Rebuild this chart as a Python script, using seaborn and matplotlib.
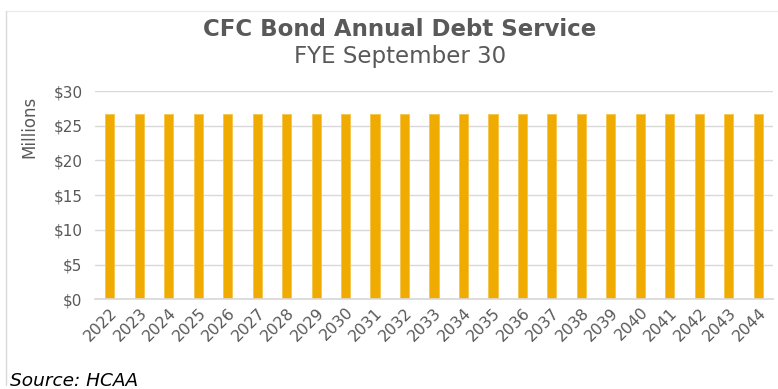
import matplotlib
matplotlib.use("Agg")
import matplotlib.pyplot as plt
import seaborn as sns
import pandas as pd
from matplotlib.lines import Line2D

years = [str(y) for y in range(2022, 2045)]
debt_service = [26.7] * 23  # $ millions, roughly level each year

title = "CFC Bond Annual Debt Service"
subtitle = "FYE September 30"
y_label = "Millions"
y_ticks = [0, 5, 10, 15, 20, 25, 30]
source = "Source: HCAA"

df = pd.DataFrame({"year": years, "value": debt_service})

sns.set_theme(style="white")
plt.rcParams["font.family"] = ["DejaVu Sans"]

fig = plt.figure(figsize=(7.78, 3.89), dpi=100)
ax = fig.add_axes([95 / 778, 1 - 299.3 / 389, 678 / 778, (299.3 - 91) / 389])

sns.barplot(data=df, x="year", y="value", color="#F0AB00", width=0.31,
            saturation=1, ax=ax, edgecolor="#F5C44A", linewidth=0.6)

ax.set_ylim(0, 30)
ax.set_xlim(-0.5, len(years) - 0.5)
ax.set_yticks(y_ticks)
ax.set_yticklabels([f"${v}" for v in y_ticks], color="#595959", fontsize=11)
ax.yaxis.grid(True, color="#D9D9D9", linewidth=1)
ax.set_axisbelow(True)
for s in ["top", "right", "left"]:
    ax.spines[s].set_visible(False)
ax.spines["bottom"].set_color("#D9D9D9")
ax.tick_params(axis="y", length=0, pad=9)
ax.tick_params(axis="x", length=0, pad=4)
ax.set_xticks(range(len(years)))
ax.set_xticklabels(years, rotation=45, ha="right", rotation_mode="anchor",
                   color="#595959", fontsize=11.3)
ax.set_xlabel("")
ax.set_ylabel(y_label, color="#595959", fontsize=12)
ax.yaxis.set_label_coords(-0.084, 0.83)

fig.text(400 / 778, 1 - 30 / 389, title, ha="center", va="center",
         fontsize=16.5, fontweight="bold", color="#595959")
fig.text(400 / 778, 1 - 57 / 389, subtitle, ha="center", va="center",
         fontsize=16.5, color="#595959")
fig.text(10 / 778, 1 - 381 / 389, source, ha="left", va="center",
         fontsize=13.3, style="italic", color="black")

# chart frame (top and left edges)
fig.add_artist(Line2D([6 / 778, 1.0], [1 - 10.5 / 389, 1 - 10.5 / 389],
                      transform=fig.transFigure, color="#EBEBEB", linewidth=1))
fig.add_artist(Line2D([6.5 / 778, 6.5 / 778], [1 - 10.5 / 389, 1 - 385 / 389],
                      transform=fig.transFigure, color="#D9D9D9", linewidth=1))

fig.savefig("out.png", dpi=100)
